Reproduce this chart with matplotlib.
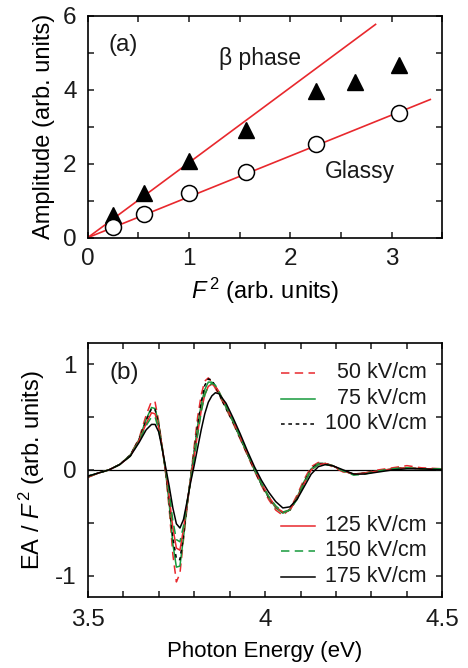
import numpy as np
import matplotlib
matplotlib.use("Agg")
import matplotlib.pyplot as plt
from matplotlib.ticker import MultipleLocator, FormatStrFormatter

plt.rcParams['font.family'] = ['Liberation Sans', 'DejaVu Sans']
plt.rcParams['mathtext.fontset'] = 'custom'
plt.rcParams['mathtext.rm'] = 'Liberation Sans'
plt.rcParams['mathtext.it'] = 'Liberation Sans:italic'
plt.rcParams['axes.unicode_minus'] = False
plt.rcParams['text.color'] = '#1a1a1a'

RED = '#e8282d'
GREEN = '#169a3c'

# (a) amplitude vs F^2
f2_beta = [0.25, 0.56, 1.0, 1.56, 2.25, 2.64, 3.07]
amp_beta = [0.61, 1.20, 2.07, 2.91, 3.97, 4.22, 4.66]
f2_glassy = [0.25, 0.56, 1.0, 1.56, 2.25, 3.07]
amp_glassy = [0.30, 0.63, 1.20, 1.77, 2.53, 3.38]

# linear fits through the origin
slope_beta = 2.03
slope_glassy = 1.105
fit_end_beta = 2.84
fit_end_glassy = 3.38

# (b) EA / F^2 spectra
energy = [3.50, 3.53, 3.56, 3.59, 3.62, 3.645, 3.665, 3.68, 3.69, 3.70,
          3.71, 3.72, 3.73, 3.74, 3.75, 3.76, 3.77, 3.78, 3.79, 3.80,
          3.81, 3.82, 3.83, 3.84, 3.85, 3.86, 3.87, 3.89, 3.91, 3.93,
          3.95, 3.97, 3.99, 4.01, 4.03, 4.05, 4.07, 4.09, 4.11, 4.13,
          4.15, 4.17, 4.19, 4.22, 4.25, 4.28, 4.32, 4.36, 4.40, 4.44, 4.50]

ea_50 = [-0.07, -0.03, 0.00, 0.05, 0.14, 0.30, 0.52, 0.65, 0.64, 0.46,
         0.22, -0.04, -0.38, -0.80, -1.06, -0.98, -0.66, -0.36, -0.07, 0.22,
         0.50, 0.71, 0.84, 0.87, 0.83, 0.77, 0.71, 0.58, 0.44, 0.29,
         0.14, -0.01, -0.15, -0.28, -0.38, -0.43, -0.37, -0.24, -0.09, 0.03,
         0.07, 0.06, 0.03, -0.02, -0.04, -0.03, 0.00, 0.02, 0.04, 0.02, 0.01]
ea_75 = [-0.07, -0.03, 0.00, 0.05, 0.14, 0.29, 0.48, 0.59, 0.58, 0.44,
         0.21, -0.03, -0.33, -0.70, -0.92, -0.91, -0.64, -0.34, -0.08, 0.17,
         0.42, 0.62, 0.76, 0.83, 0.83, 0.79, 0.73, 0.59, 0.45, 0.30,
         0.15, 0.00, -0.14, -0.26, -0.36, -0.41, -0.38, -0.26, -0.11, 0.01,
         0.06, 0.06, 0.04, -0.01, -0.04, -0.03, -0.01, 0.01, 0.02, 0.01, 0.01]
ea_100 = [-0.06, -0.03, 0.00, 0.05, 0.14, 0.29, 0.47, 0.58, 0.57, 0.43,
          0.21, -0.02, -0.30, -0.64, -0.84, -0.85, -0.61, -0.33, -0.08, 0.16,
          0.42, 0.64, 0.80, 0.86, 0.85, 0.79, 0.72, 0.58, 0.45, 0.30,
          0.15, 0.00, -0.14, -0.26, -0.35, -0.40, -0.38, -0.27, -0.12, 0.01,
          0.06, 0.06, 0.04, -0.01, -0.04, -0.03, -0.01, 0.01, 0.02, 0.01, 0.01]
ea_125 = [-0.07, -0.03, 0.00, 0.05, 0.13, 0.28, 0.44, 0.54, 0.53, 0.40,
          0.21, -0.01, -0.26, -0.55, -0.74, -0.76, -0.56, -0.32, -0.10, 0.12,
          0.35, 0.56, 0.71, 0.79, 0.81, 0.79, 0.74, 0.60, 0.46, 0.31,
          0.16, 0.01, -0.13, -0.25, -0.35, -0.40, -0.38, -0.27, -0.13, 0.00,
          0.05, 0.06, 0.04, -0.01, -0.04, -0.03, -0.01, 0.01, 0.02, 0.01, 0.01]
ea_150 = [-0.06, -0.03, 0.00, 0.05, 0.13, 0.27, 0.42, 0.50, 0.50, 0.38,
          0.20, 0.00, -0.22, -0.48, -0.66, -0.68, -0.53, -0.31, -0.11, 0.10,
          0.33, 0.55, 0.71, 0.79, 0.82, 0.80, 0.74, 0.60, 0.46, 0.31,
          0.16, 0.01, -0.13, -0.25, -0.34, -0.40, -0.38, -0.28, -0.13, 0.00,
          0.05, 0.05, 0.04, -0.01, -0.05, -0.04, -0.01, 0.01, 0.02, 0.01, 0.01]
ea_175 = [-0.06, -0.03, 0.00, 0.05, 0.13, 0.26, 0.38, 0.43, 0.43, 0.36,
          0.20, 0.02, -0.16, -0.36, -0.51, -0.55, -0.47, -0.30, -0.12, 0.04,
          0.21, 0.38, 0.53, 0.64, 0.70, 0.73, 0.72, 0.63, 0.49, 0.34,
          0.18, 0.03, -0.10, -0.21, -0.30, -0.36, -0.35, -0.28, -0.16, -0.04,
          0.03, 0.05, 0.04, 0.00, -0.04, -0.04, -0.02, 0.00, 0.01, 0.01, 0.00]

fields = ['50 kV/cm', '75 kV/cm', '100 kV/cm', '125 kV/cm', '150 kV/cm', '175 kV/cm']
spectra = [ea_50, ea_75, ea_100, ea_125, ea_150, ea_175]
styles = [(RED, (0, (5.5, 3.5))), (GREEN, '-'), ('black', (0, (2.4, 2.4))),
          (RED, '-'), (GREEN, (0, (5.5, 3.5))), ('black', '-')]

fig = plt.figure(figsize=(4.68, 6.68), dpi=100)
ax1 = fig.add_axes([0.1874, 0.6442, 0.758, 0.3323])
ax2 = fig.add_axes([0.1874, 0.1067, 0.758, 0.3798])

for ax in (ax1, ax2):
    for s in ax.spines.values():
        s.set_linewidth(1.2)
    ax.tick_params(which='both', direction='in', top=True, right=True,
                   length=4.5, width=1.1, labelsize=17.5,
                   colors='#1a1a1a')
    ax.tick_params(axis='y', pad=8)
ax1.tick_params(axis='x', pad=7.5)
ax2.tick_params(axis='x', pad=9)

# panel (a)
xb = np.array([0, fit_end_beta])
xg = np.array([0, fit_end_glassy])
ax1.plot(xb, slope_beta * xb, color=RED, lw=1.2, zorder=2)
ax1.plot(xg, slope_glassy * xg, color=RED, lw=1.2, zorder=2)
ax1.plot(f2_beta, amp_beta, '^', color='black', ms=11.5, zorder=3)
ax1.plot(f2_glassy, amp_glassy, 'o', mfc='white', mec='black', mew=1.1,
         ms=11.5, zorder=3)
ax1.set_xlim(0, 3.5)
ax1.set_ylim(0, 6)
ax1.xaxis.set_major_locator(MultipleLocator(1))
ax1.xaxis.set_minor_locator(MultipleLocator(0.5))
ax1.yaxis.set_major_locator(MultipleLocator(2))
ax1.yaxis.set_minor_locator(MultipleLocator(1))
ax1.set_xlabel(r'$F^{\,2}$ (arb. units)', fontsize=17, labelpad=4)
ax1.set_ylabel('Amplitude (arb. units)', fontsize=17, labelpad=6)
ax1.text(0.10, 0.868, '(a)', transform=ax1.transAxes, fontsize=17.5,
         ha='center', va='center')
ax1.text(1.70, 4.85, 'β phase', fontsize=16.5, ha='center', va='center')
ax1.text(2.69, 1.78, 'Glassy', fontsize=16.5, ha='center', va='center')

# panel (b)
ax2.axhline(0, color='black', lw=0.9, zorder=1)
for ea, (c, ls) in zip(spectra, styles):
    ax2.plot(energy, ea, color=c, ls=ls, lw=1.1, zorder=2)
ax2.set_xlim(3.5, 4.5)
ax2.set_ylim(-1.2, 1.2)
ax2.xaxis.set_major_locator(MultipleLocator(0.5))
ax2.xaxis.set_minor_locator(MultipleLocator(0.1))
ax2.xaxis.set_major_formatter(FormatStrFormatter('%g'))
ax2.yaxis.set_major_locator(MultipleLocator(1))
ax2.yaxis.set_minor_locator(MultipleLocator(0.5))
ax2.set_xlabel('Photon Energy (eV)', fontsize=16, labelpad=7)
ax2.set_ylabel(r'EA / $F^{\,2}$ (arb. units)', fontsize=17, labelpad=6)
ax2.text(0.102, 0.88, '(b)', transform=ax2.transAxes, fontsize=17.5,
         ha='center', va='center')

# hand-placed legend entries, text right-aligned
rows = [0.883, 0.780, 0.681, 0.279, 0.181, 0.079]
for label, (c, ls), y in zip(fields, styles, rows):
    ax2.plot([0.546, 0.640], [y, y], color=c, ls=ls, lw=1.1,
             transform=ax2.transAxes)
    ax2.text(0.955, y, label, transform=ax2.transAxes, fontsize=15.5,
             ha='right', va='center')

fig.savefig('out.png', dpi=100)
